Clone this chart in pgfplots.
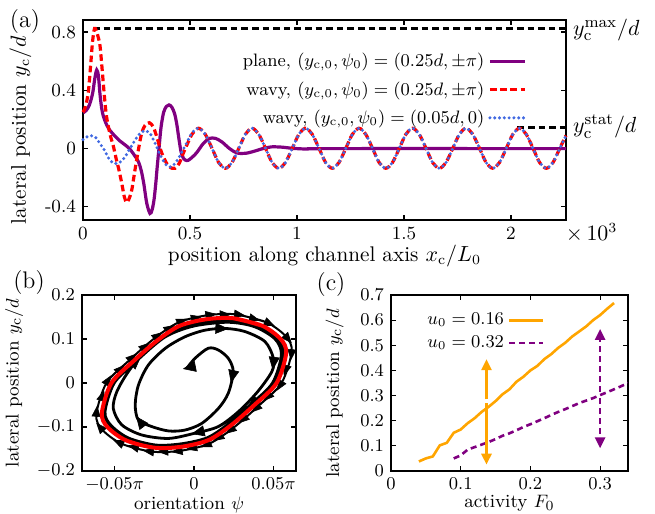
\documentclass[border=0pt]{standalone}
\usepackage{pgfplots}
\pgfplotsset{compat=1.18}
\usepackage{pgfplotstable}
\usetikzlibrary{arrows.meta}

\definecolor{cpurple}{RGB}{128,0,128}
\definecolor{cblue}{RGB}{65,105,225}
\definecolor{corange}{RGB}{255,165,0}

% ---------- panel (a): trajectories y_c(x_c), x in units of 10^3 L_0
\pgfplotstableread{
x y
0 0.246
0.015 0.262
0.03 0.30
0.045 0.38
0.055 0.48
0.064 0.54
0.072 0.50
0.079 0.38
0.087 0.28
0.095 0.223
0.11 0.165
0.126 0.125
0.15 0.085
0.173 0.052
0.2 0.022
0.22 -0.005
0.24 -0.045
0.259 -0.09
0.272 -0.15
0.284 -0.24
0.298 -0.375
0.313 -0.445
0.323 -0.42
0.332 -0.35
0.34 -0.24
0.347 -0.122
0.355 0.0
0.365 0.15
0.377 0.25
0.39 0.29
0.402 0.30
0.415 0.285
0.428 0.24
0.438 0.17
0.447 0.08
0.458 -0.02
0.47 -0.068
0.485 -0.082
0.5 -0.072
0.53 -0.03
0.562 0.035
0.59 0.07
0.62 0.07
0.65 0.045
0.685 0.0
0.72 -0.03
0.76 -0.032
0.8 -0.018
0.84 0.0
0.88 0.012
0.93 0.01
0.98 0.002
1.05 -0.003
1.15 0.0
2.257 0.0
}\planeA

\pgfplotstableread{
x y
0 0.25
0.012 0.29
0.025 0.39
0.035 0.56
0.045 0.74
0.054 0.825
0.062 0.81
0.072 0.76
0.08 0.70
0.092 0.50
0.1 0.36
0.11 0.22
0.126 0.10
0.142 0.016
0.155 -0.07
0.167 -0.14
0.181 -0.237
0.193 -0.33
0.204 -0.37
0.215 -0.345
0.228 -0.283
0.243 -0.145
0.259 -0.007
0.274 0.105
0.29 0.16
0.31 0.178
0.328 0.15
0.344 0.085
0.368 -0.03
0.4 -0.122
0.43 -0.135
0.45 -0.10
0.469 -0.03
0.49 0.04
0.51 0.10
0.540 0.140
0.571 0.099
0.603 0.002
0.634 -0.096
0.665 -0.135
0.696 -0.096
0.728 0.002
0.759 0.099
0.790 0.140
0.821 0.099
0.853 0.002
0.884 -0.096
0.915 -0.135
0.946 -0.096
0.978 0.002
1.009 0.099
1.040 0.140
1.071 0.099
1.103 0.002
1.134 -0.096
1.165 -0.135
1.196 -0.096
1.228 0.002
1.259 0.099
1.290 0.140
1.321 0.099
1.353 0.002
1.384 -0.096
1.415 -0.135
1.446 -0.096
1.478 0.002
1.509 0.099
1.540 0.140
1.571 0.099
1.603 0.002
1.634 -0.096
1.665 -0.135
1.696 -0.096
1.728 0.002
1.759 0.099
1.790 0.140
1.821 0.099
1.853 0.002
1.884 -0.096
1.915 -0.135
1.946 -0.096
1.978 0.002
2.009 0.099
2.040 0.140
2.071 0.099
2.103 0.002
2.134 -0.096
2.165 -0.135
2.196 -0.096
2.228 0.002
2.257 0.090
}\wavyA

\pgfplotstableread{
x y
0 0.062
0.02 0.082
0.04 0.088
0.058 0.078
0.079 0.035
0.1 -0.01
0.118 -0.062
0.137 -0.095
0.157 -0.103
0.176 -0.09
0.196 -0.058
0.215 -0.01
0.235 0.039
0.255 0.085
0.275 0.115
0.295 0.122
0.315 0.10
0.336 0.039
0.352 -0.015
0.368 -0.064
0.388 -0.11
0.407 -0.126
0.425 -0.11
0.445 -0.07
0.465 -0.015
0.485 0.04
0.51 0.11
0.540 0.140
0.571 0.099
0.603 0.002
0.634 -0.096
0.665 -0.135
0.696 -0.096
0.728 0.002
0.759 0.099
0.790 0.140
0.821 0.099
0.853 0.002
0.884 -0.096
0.915 -0.135
0.946 -0.096
0.978 0.002
1.009 0.099
1.040 0.140
1.071 0.099
1.103 0.002
1.134 -0.096
1.165 -0.135
1.196 -0.096
1.228 0.002
1.259 0.099
1.290 0.140
1.321 0.099
1.353 0.002
1.384 -0.096
1.415 -0.135
1.446 -0.096
1.478 0.002
1.509 0.099
1.540 0.140
1.571 0.099
1.603 0.002
1.634 -0.096
1.665 -0.135
1.696 -0.096
1.728 0.002
1.759 0.099
1.790 0.140
1.821 0.099
1.853 0.002
1.884 -0.096
1.915 -0.135
1.946 -0.096
1.978 0.002
2.009 0.099
2.040 0.140
2.071 0.099
2.103 0.002
2.134 -0.096
2.165 -0.135
2.196 -0.096
2.228 0.002
2.257 0.090
}\wavyB

% ---------- panel (b): phase portrait, psi in units of pi
\pgfplotstableread{
x y
0.025 0.147
0.043 0.130
0.0545 0.100
0.058 0.068
0.052 0.0
0.038 -0.050
0.023 -0.097
0.009 -0.130
-0.008 -0.145
-0.025 -0.147
-0.043 -0.130
-0.0545 -0.100
-0.058 -0.068
-0.052 0.0
-0.038 0.050
-0.023 0.097
-0.009 0.130
0.008 0.145
0.025 0.147
0.043 0.130
}\cycleB

\pgfplotstableread{
x y
0.0265 0.156
0.0456 0.138
0.0578 0.106
0.0615 0.072
0.0551 0.0
0.0403 -0.053
0.0244 -0.103
0.0095 -0.138
-0.0085 -0.154
-0.0265 -0.156
-0.0456 -0.138
-0.0578 -0.106
-0.0615 -0.072
-0.0551 0.0
-0.0403 0.053
-0.0244 0.103
-0.0095 0.138
0.0085 0.154
0.0265 0.156
0.0456 0.138
}\outerB

% flow direction marks on the outer trajectory (tail x,y and vector u,v)
\pgfplotstableread{
x y u v
0.0265 0.156 0.00562 -0.00245
0.0456 0.138 0.00518 -0.00827
0.0578 0.106 0.00372 -0.0154
0.0615 0.072 -0.00052 -0.02036
0.0551 0.0 -0.00296 -0.01745
0.0403 -0.053 -0.00415 -0.0139
0.0244 -0.103 -0.0045 -0.0124
0.0095 -0.138 -0.0052 -0.0081
-0.0085 -0.154 -0.00561 -0.0028
-0.0265 -0.156 -0.00562 0.00245
-0.0456 -0.138 -0.00518 0.00827
-0.0578 -0.106 -0.00372 0.0154
-0.0615 -0.072 0.00052 0.02036
-0.0551 0.0 0.00296 0.01745
-0.0403 0.053 0.00415 0.0139
-0.0244 0.103 0.0045 0.0124
-0.0095 0.138 0.0052 0.0081
0.0085 0.154 0.00561 0.0028
0.03605 0.147 0.00548 -0.00516
0.0583 0.036 -0.00174 -0.01948
0.0477 -0.0265 -0.00402 -0.0144
0.03236 -0.078 -0.00428 -0.01343
0.01695 -0.1205 -0.00474 -0.01113
0.0005 -0.146 -0.00549 -0.00493
-0.0175 -0.155 -0.00566 -0.00057
-0.03605 -0.147 -0.00548 0.00516
-0.0583 -0.036 0.00174 0.01948
-0.0477 0.0265 0.00402 0.0144
-0.03236 0.078 0.00428 0.01343
-0.01695 0.1205 0.00474 0.01113
-0.0005 0.146 0.00549 0.00493
0.0175 0.155 0.00566 0.00057
}\outerArrows

\pgfplotstableread{
x y
-0.0046 0.033
0.0006 0.056
0.009 0.079
0.0153 0.075
0.0216 0.056
0.0247 0.026
0.0216 -0.023
0.0153 -0.058
0.0048 -0.092
-0.0057 -0.107
-0.016 -0.109
-0.0266 -0.099
-0.035 -0.084
-0.037 -0.05
-0.035 -0.005
-0.0287 0.041
-0.018 0.079
-0.0057 0.105
0.0069 0.12
0.0195 0.124
0.032 0.117
0.0447 0.094
0.05 0.056
0.049 0.026
0.040 -0.02
0.028 -0.065
0.0153 -0.099
0.0006 -0.114
-0.016 -0.126
-0.033 -0.118
-0.0455 -0.095
-0.0508 -0.058
-0.0486 -0.02
-0.0413 0.026
-0.031 0.071
-0.016 0.109
0.0006 0.13
0.0216 0.138
0.038 0.128
0.051 0.10
0.055 0.064
0.0494 0.0
0.0361 -0.0475
0.0219 -0.0922
0.0086 -0.124
-0.0076 -0.138
-0.024 -0.141
-0.0413 -0.125
-0.0523 -0.096
-0.056 -0.0656
-0.0502 0.0
-0.0367 0.0483
-0.0223 0.094
-0.0087 0.126
0.0078 0.141
0.0244 0.143
0.0419 0.127
0.0531 0.0975
0.0568 0.0666
0.051 0.0
0.0372 -0.049
0.0225 -0.095
0.0089 -0.128
-0.0079 -0.143
-0.0246 -0.145
-0.0424 -0.128
-0.054 -0.099
-0.0574 -0.0673
-0.0515 0.0
-0.0376 0.0495
-0.0228 0.096
}\spiralB

\pgfplotstableread{
x y u v
-0.0015 0.036 -0.0055 -0.004
0.0245 0.020 -0.00126 -0.020
-0.033 -0.092 -0.00345 0.0163
0.016 0.124 0.00566 -0.0007
0.0502 0.050 -0.0007 -0.0202
0.004 -0.111 -0.0055 -0.0047
0.038 -0.043 -0.00415 -0.0139
-0.0375 0.046 0.00415 0.0139
}\spiralArrows

% ---------- panel (c): y_c versus F_0
\pgfplotstableread{
x y
0.04 0.038
0.05 0.05
0.06 0.058
0.07 0.102
0.08 0.112
0.09 0.152
0.10 0.165
0.11 0.19
0.12 0.21
0.13 0.235
0.14 0.255
0.15 0.278
0.16 0.305
0.17 0.325
0.18 0.355
0.19 0.375
0.20 0.40
0.21 0.418
0.22 0.445
0.23 0.465
0.24 0.49
0.25 0.51
0.26 0.535
0.27 0.555
0.28 0.575
0.29 0.60
0.30 0.62
0.31 0.645
0.32 0.668
}\uA

\pgfplotstableread{
x y
0.09 0.05
0.10 0.062
0.11 0.085
0.12 0.095
0.13 0.105
0.14 0.115
0.15 0.127
0.16 0.14
0.17 0.15
0.18 0.162
0.19 0.175
0.20 0.186
0.21 0.198
0.22 0.21
0.23 0.223
0.24 0.235
0.25 0.246
0.26 0.258
0.27 0.27
0.28 0.28
0.29 0.29
0.30 0.302
0.31 0.313
0.32 0.325
0.33 0.337
0.34 0.35
}\uB

\begin{document}
\begin{tikzpicture}
\pgfplotsset{
  every axis/.append style={
    scale only axis,
    anchor=south west,
    axis line style={line width=0.6pt},
    tick style={line width=0.6pt, black},
    major tick length=2.5pt,
    tick label style={font=\fontsize{9.3}{11}\selectfont},
    label style={font=\fontsize{9.3}{11}\selectfont},
    xlabel style={yshift=4pt},
    legend style={draw=none, fill=none, font=\fontsize{9}{11}\selectfont},
  },
}

% (a)
\begin{axis}[
    at={(41.5pt,147pt)},
    width=241.5pt, height=100pt,
    xmin=0, xmax=2.257,
    ymin=-0.49, ymax=0.883,
    clip=false,
    xtick={0,0.5,1,1.5,2},
    xticklabels={0,0.5,1,1.5,2},
    ytick={-0.4,0,0.4,0.8},
    yticklabels={-0.4,0,0.4,0.8},
    label style={font=\fontsize{10.6}{12.5}\selectfont},
    xlabel style={yshift=0.5pt},
    ylabel style={at={(ticklabel cs:0.45)}},
    xlabel={position along channel axis $x_{\mathrm{c}}/L_0$},
    ylabel={lateral position $y_{\mathrm{c}}/d$},
    legend style={at={(0.93,0.875)}, anchor=north east, row sep=1.8pt},
    legend cell align=right,
    legend plot pos=right,
]
\addplot[black, line width=1.5pt, dash pattern=on 3.3pt off 2pt, forget plot]
    coordinates {(0.047,0.825) (2.257,0.825)};
\addplot[black, line width=1.5pt, dash pattern=on 3.3pt off 2pt, forget plot]
    coordinates {(2.03,0.145) (2.257,0.145)};
\addplot[cpurple, line width=1.6pt, smooth] table {\planeA};
\addlegendentry{plane, $(y_{\mathrm{c},0},\psi_0)=(0.25d,\pm\pi)$}
\addplot[red, line width=1.6pt, smooth, dash pattern=on 3.3pt off 1.8pt] table {\wavyA};
\addlegendentry{wavy, $(y_{\mathrm{c},0},\psi_0)=(0.25d,\pm\pi)$}
\addplot[cblue, line width=1.7pt, smooth, line cap=round, dash pattern=on 0pt off 2.4pt] table {\wavyB};
\addlegendentry{wavy, $(y_{\mathrm{c},0},\psi_0)=(0.05d,0)$}
\node[anchor=west, font=\fontsize{11}{13}\selectfont] at (axis cs:2.257,0.815) {$y_{\mathrm{c}}^{\mathrm{max}}/d$};
\node[anchor=west, font=\fontsize{11}{13}\selectfont] at (axis cs:2.257,0.15) {$y_{\mathrm{c}}^{\mathrm{stat}}/d$};
\node[anchor=north west, font=\fontsize{10.5}{12}\selectfont, inner sep=1pt] at (axis cs:2.245,-0.5) {$\times\,10^3$};
\end{axis}

% (b)
\begin{axis}[
    at={(41pt,21.5pt)},
    width=107pt, height=88pt,
    xmin=-0.0705, xmax=0.0642,
    ymin=-0.2, ymax=0.2,
    scaled x ticks=false,
    xtick={-0.05,0,0.05},
    xticklabels={$-0.05\pi$,$0$,$0.05\pi$},
    ytick={-0.2,-0.1,0,0.1,0.2},
    xlabel={orientation $\psi$},
    ylabel={lateral position $y_{\mathrm{c}}/d$},
]
\addplot[black, line width=1pt, smooth] table {\outerB};
\addplot[black, line width=0.3pt, -{Triangle[length=5.5pt,width=4.5pt]},
    quiver={u=\thisrow{u}, v=\thisrow{v}}] table {\outerArrows};
\addplot[black, line width=1.4pt, smooth] table {\spiralB};
\addplot[black, line width=0.3pt, -{Triangle[length=6.5pt,width=5.5pt]},
    quiver={u=\thisrow{u}, v=\thisrow{v}}] table {\spiralArrows};
\addplot[red, line width=2pt, smooth] table {\cycleB};
\end{axis}

% (c)
\begin{axis}[
    at={(195.5pt,21.5pt)},
    width=118.5pt, height=88pt,
    xmin=0, xmax=0.34,
    ymin=0, ymax=0.7,
    xtick={0,0.1,0.2,0.3},
    ytick={0,0.1,0.2,0.3,0.4,0.5,0.6,0.7},
    xlabel={activity $F_0$},
    ylabel={lateral position $y_{\mathrm{c}}/d$},
    ylabel style={at={(ticklabel cs:0.44)}, yshift=1.5pt},
    legend style={at={(0.11,0.945)}, anchor=north west},
    legend cell align=left,
    legend plot pos=right,
]
\addplot[corange, line width=1.3pt] table {\uA};
\addlegendentry{$u_0=0.16$}
\addplot[cpurple, line width=1.3pt, dash pattern=on 3pt off 2pt] table {\uB};
\addlegendentry{$u_0=0.32$}
\addplot[corange, line width=1.3pt, -{Triangle[length=5.5pt,width=5pt]}, forget plot]
    coordinates {(0.137,0.285) (0.137,0.445)};
\addplot[corange, line width=1.3pt, -{Triangle[length=5.5pt,width=5pt]}, forget plot]
    coordinates {(0.137,0.27) (0.137,0.025)};
\addplot[cpurple, line width=1.3pt, dash pattern=on 3pt off 2pt, -{Triangle[length=5.5pt,width=5pt]}, forget plot]
    coordinates {(0.3,0.315) (0.3,0.565)};
\addplot[cpurple, line width=1.3pt, dash pattern=on 3pt off 2pt, -{Triangle[length=5.5pt,width=5pt]}, forget plot]
    coordinates {(0.3,0.29) (0.3,0.09)};
\end{axis}

\node[font=\fontsize{12}{14}\selectfont] at (12.5pt,246pt) {(a)};
\node[font=\fontsize{12}{14}\selectfont] at (14.5pt,115.5pt) {(b)};
\node[font=\fontsize{12}{14}\selectfont] at (165.5pt,114.5pt) {(c)};

\pgfresetboundingbox
\path[use as bounding box] (0,0) rectangle (327.5pt,257pt);
\end{tikzpicture}
\end{document}
